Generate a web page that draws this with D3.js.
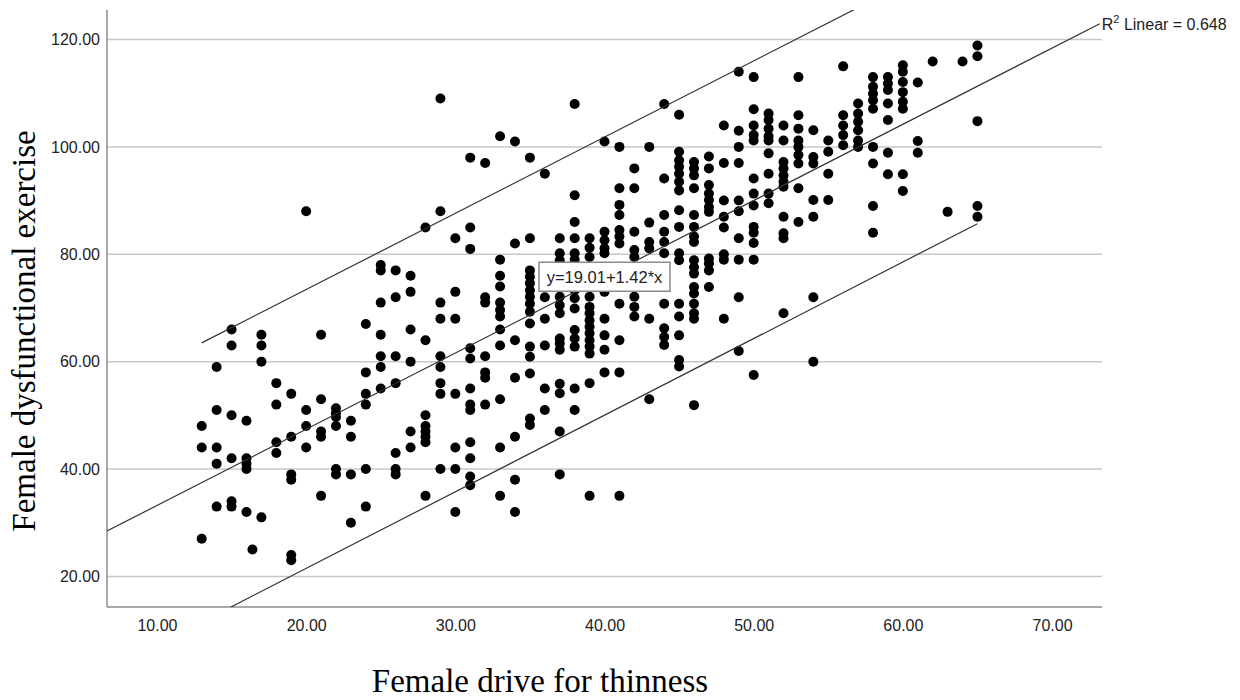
<!DOCTYPE html>
<html><head><meta charset="utf-8">
<script src="https://cdn.jsdelivr.net/npm/d3@7"></script>
<style>body{margin:0;background:#fff}svg{display:block}</style>
</head><body>
<script>
// Female drive for thinness (x columns) and Female dysfunctional exercise values (y) per column
const driveValues = [13,14,15,16,16.4,17,18,19,20,21,22,23,24,25,26,27,28,29,30,31,32,33,34,35,36,37,38,39,40,41,42,43,44,45,46,47,48,49,50,51,52,53,54,55,56,57,58,59,60,61,62,63,64,65];
const exerciseValues = [
  [48,44,27],
  [59,51,44,41,33],
  [66,63,50,42,34,33],
  [49,42,41,40,32],
  [25],
  [65,63,60,31],
  [56,52,45,43],
  [54,46,39,38,24,23],
  [88,51,48,44],
  [65,53,47,46,35],
  [51.3,50.4,49.7,48,40,39],
  [49,46,39,30],
  [67,58,54,52,40,33],
  [78,77,71,65,61,59,55],
  [77,72,61,56,43,40,39],
  [76,73,66,60,47,44],
  [85,64,50,48,47,46,45,35],
  [109,88,71,68,61,59,56,54,40],
  [83,73,68,54,44,40,32],
  [98,85,81,62.5,60.6,55,52,51,45,42,38.6,37],
  [97,72,71,61,58,57,52],
  [102,79,76,74,71,69.6,68.4,66,63,53,44,35],
  [101,82,64,57,46,38,32],
  [98,83,77,75.8,74.6,73.3,72.1,70.8,69.3,67.1,62.8,60.9,57.8,49.4,48.2],
  [95,72,68,63,55,51],
  [83,80.2,78.9,77.4,75.5,73.9,72.1,70.5,69,64.3,63.4,62.2,55.9,54.1,47,39],
  [108,91,86,83,80.2,79,77,75,73.3,71.8,69.9,65.9,64.3,62.8,55,51],
  [83,81.2,79.5,72.1,70.2,69,67.7,66.5,65.3,64,62.8,61.5,56,35],
  [101,84.2,82.6,81.1,80.2,73,68,64.9,62.2,58],
  [100,92.3,89.2,87.3,84.5,83.3,82,70.8,64,58,35],
  [96,92.3,84.2,80.8,79.5,72.1,70.2,68.4],
  [100,85.9,82.3,81.1,68,53],
  [108,94.1,87.3,84.2,82.3,80.2,70.8,66.2,64.6,63.1],
  [106,99.1,97.5,96.3,95,93.5,91.9,88.2,85.1,80.2,78.9,70.8,68.4,64.9,60.3,59.1],
  [97.2,96,94.7,92.3,87.3,85.1,83.3,82.3,78.9,77.6,76.4,73.9,72.7,70.8,69,68,51.9],
  [98.2,96,92.9,91.3,90.1,88.8,87.9,79.2,78.3,77,73.9],
  [104,97,90,87,85,80,79,68],
  [114,103,100,97,90,88,83,79,72,62],
  [113,107,104,102.2,101.2,94.1,91.3,89.1,85.1,84,82.1,79,57.5],
  [106.2,105,103.4,102,101.2,98.8,95,91.3,89.5],
  [104,101.2,97.2,96,94.7,93.5,92.6,87,83.9,83,69],
  [113,105.9,103.4,101.2,100,98.5,96.9,92.3,86],
  [103.1,98.1,96.9,90.1,87,72,60],
  [101.2,99.1,95,90.1],
  [115,105.9,104,102.2,100.3],
  [108.1,106.2,104.7,103.1,101.2,100],
  [113,111.2,109.9,108.7,107.1,100,96.9,89,84],
  [113,111.8,110.6,108.1,105,98.9,94.9],
  [115.2,114,112.1,110.2,108.4,107.1,94.9,91.8],
  [112,101.1,98.9],
  [115.9],
  [87.9],
  [115.9],
  [118.9,116.9,104.8,89,87]
];
const xTicks = [10,20,30,40,50,60,70];
const yTicks = [20,40,60,80,100,120];
const fitIntercept = 19.01, fitSlope = 1.42, rSquared = 0.648;
const upperBand = [[13,63.5],[65,137.3]];
const lowerBand = [[13,11.5],[65,85.7]];
const xTitle = "Female drive for thinness";
const yTitle = "Female dysfunctional exercise";

const W = 1240, H = 700;
const pLeft = 107, pRight = 1102, pTop = 10, pBottom = 607;
const x = d3.scaleLinear().domain([6.65, 73.35]).range([pLeft, pRight]);
const y = d3.scaleLinear().domain([14.3, 125.5]).range([pBottom, pTop]);

const points = [];
driveValues.forEach((xv, i) => exerciseValues[i].forEach(yv => points.push([xv, yv])));

const sans = "'Liberation Sans', Arial, sans-serif";
const serif = "'Liberation Serif', 'Times New Roman', serif";
const svg = d3.select("body").append("svg").attr("width", W).attr("height", H)
  .style("font-family", sans);

svg.append("defs").append("clipPath").attr("id","plotclip")
  .append("rect").attr("x", pLeft).attr("y", pTop).attr("width", pRight-pLeft).attr("height", pBottom-pTop);

// gridlines
svg.append("g").selectAll("line").data(yTicks).join("line")
  .attr("x1", pLeft).attr("x2", pRight).attr("y1", d => y(d)).attr("y2", d => y(d))
  .attr("stroke", "#c8c8c8").attr("stroke-width", 1.5);

// axes
const yAxis = svg.append("g").attr("transform", `translate(${pLeft},0)`)
  .call(d3.axisLeft(y).tickValues(yTicks).tickFormat(d3.format(".2f")).tickSize(0).tickPadding(7));
const xAxis = svg.append("g").attr("transform", `translate(0,${pBottom})`)
  .call(d3.axisBottom(x).tickValues(xTicks).tickFormat(d3.format(".2f")).tickSize(0).tickPadding(12.6));
[xAxis, yAxis].forEach(g => {
  g.select(".domain").remove();
  g.selectAll("text").attr("fill", "#222").style("font-size", "16px").style("font-family", sans);
});
svg.append("line").attr("x1", pLeft).attr("x2", pLeft).attr("y1", pTop).attr("y2", pBottom)
  .attr("stroke", "#8c8c8c").attr("stroke-width", 1.5);
svg.append("line").attr("x1", pLeft).attr("x2", pRight).attr("y1", pBottom).attr("y2", pBottom)
  .attr("stroke", "#8c8c8c").attr("stroke-width", 1.5);

// points
svg.append("g").selectAll("circle").data(points).join("circle")
  .attr("cx", d => x(d[0])).attr("cy", d => y(d[1])).attr("r", 5).attr("fill", "#000");

// lines
const lineGen = d3.line().x(d => x(d[0])).y(d => y(d[1]));
const xd = x.domain();
const fitPts = [[xd[0], fitIntercept + fitSlope*xd[0]], [73.2, fitIntercept + fitSlope*73.2]];
const lg = svg.append("g").attr("clip-path", "url(#plotclip)");
[fitPts, upperBand, lowerBand].forEach(p => {
  lg.append("path").attr("d", lineGen(p)).attr("fill", "none").attr("stroke", "#333").attr("stroke-width", 1.2);
});

// R2 label
const endPt = fitPts[1];
const rl = svg.append("text").attr("x", x(endPt[0]) + 2).attr("y", 29.5)
  .attr("fill", "#222").style("font-size", "16px");
rl.append("tspan").text("R");
rl.append("tspan").attr("dy", -7).style("font-size", "11px").text("2");
rl.append("tspan").attr("dy", 7).text(" Linear = " + rSquared.toFixed(3));

// equation box
const eqX = 40, eqY = fitIntercept + fitSlope*eqX;
const eqG = svg.append("g").attr("transform", `translate(${x(eqX)},${y(eqY)})`);
const eqT = eqG.append("text").attr("text-anchor", "middle").attr("dy", "0.36em")
  .attr("fill", "#222").style("font-size", "16.5px")
  .text(`y=${fitIntercept.toFixed(2)}+${fitSlope.toFixed(2)}*x`);
const bb = eqT.node().getBBox();
eqG.insert("rect", "text").attr("x", -65.5).attr("y", -14.5).attr("width", 131).attr("height", 29)
  .attr("fill", "#fff").attr("stroke", "#8a8a8a").attr("stroke-width", 1.5);

// titles
svg.append("text").attr("x", 540).attr("y", 692).attr("text-anchor", "middle")
  .style("font-family", serif).style("font-size", "33px")
  .attr("fill", "#000").text(xTitle);
svg.append("text").attr("transform", `translate(35,331) rotate(-90)`).attr("text-anchor", "middle")
  .style("font-family", serif).style("font-size", "33px")
  .attr("fill", "#000").text(yTitle);
</script>
</body></html>
